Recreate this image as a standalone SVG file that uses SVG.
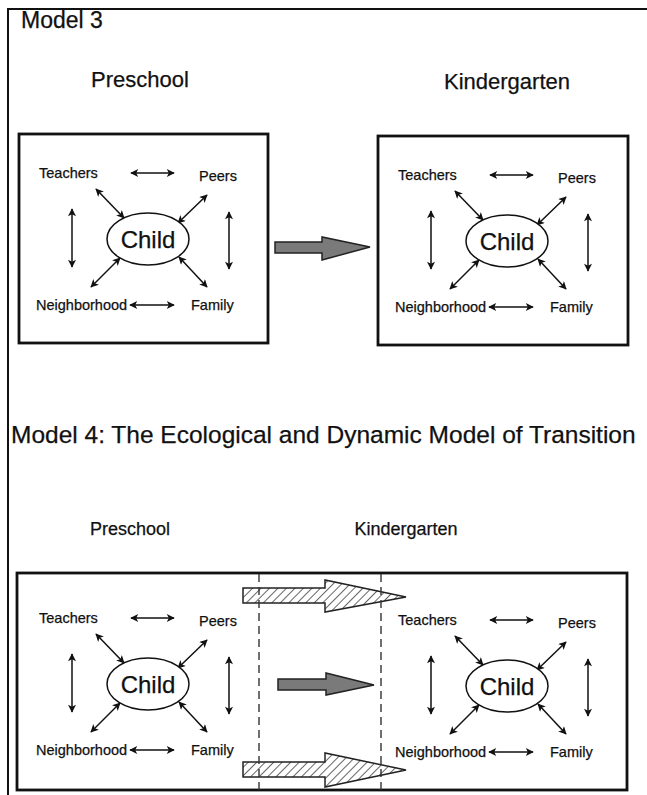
<svg xmlns="http://www.w3.org/2000/svg" width="647" height="795" viewBox="0 0 647 795">
<style>
text{font-family:"Liberation Sans",Arial,sans-serif;fill:#111;stroke:#111;stroke-width:0.25}
.lbl{font-size:14.5px}
.child{font-size:24px;text-anchor:middle}
.ttl{font-size:22px;text-anchor:middle}
.ttl2{font-size:18px;text-anchor:middle}
.rel{stroke:#111;stroke-width:1.5;fill:none;marker-start:url(#ah);marker-end:url(#ah)}
.ell{fill:#fff;stroke:#111;stroke-width:1.5}
.box{fill:none;stroke:#111;stroke-width:2.8}
.block{fill:#7a7a7a;stroke:#222;stroke-width:1.5}
.hatch{fill:url(#hp);stroke:#222;stroke-width:1.5}
.dash{stroke:#333;stroke-width:1.4;stroke-dasharray:8 5;fill:none}
</style>
<defs>
<marker id="ah" viewBox="0 0 10 10" refX="9" refY="5" markerWidth="9" markerHeight="8" orient="auto-start-reverse" markerUnits="userSpaceOnUse">
<path d="M0,0 L10,5 L0,10 L2.5,5 Z" fill="#111"/>
</marker>
<pattern id="hp" patternUnits="userSpaceOnUse" width="6" height="6" patternTransform="rotate(45)">
<rect width="6" height="6" fill="#fff"/>
<line x1="0" y1="0" x2="0" y2="6" stroke="#333" stroke-width="1.5"/>
</pattern>
</defs>

<rect width="647" height="795" fill="#fff"/>
<path d="M8,795 L8,9 L647,9" fill="none" stroke="#111" stroke-width="2"/>

<text x="21" y="28" style="font-size:23px">Model 3</text>
<text class="ttl" x="140" y="87">Preschool</text>
<text class="ttl" x="507" y="89">Kindergarten</text>
<rect id="box-m3-pre" class="box" x="19" y="134" width="249" height="209"/>
<rect id="box-m3-kg" class="box" x="378" y="136" width="250" height="209"/>

<text x="11" y="443" style="font-size:24.5px">Model 4: The Ecological and Dynamic Model of Transition</text>
<text class="ttl2" x="130" y="535">Preschool</text>
<text class="ttl2" x="406" y="535">Kindergarten</text>
<rect id="box-m4" class="box" x="17" y="573" width="610" height="217"/>

<g id="transition-arrows">
<path id="m3-arrow" class="block" d="M275,242 L322,242 L322,237 L370,247 L322,260 L322,253 L275,253 Z"/>
<path id="m4-arrow-top" class="hatch" d="M243,588 L325,588 L325,580 L406,597 L325,612 L325,603 L243,603 Z"/>
<path id="m4-arrow-mid" class="block" d="M278,679 L326,679 L326,673 L374,685 L326,695 L326,690 L278,690 Z"/>
<path id="m4-arrow-bot" class="hatch" d="M243,762 L325,762 L325,753 L406,770 L325,787 L325,777 L243,777 Z"/>
<line class="dash" x1="259" y1="574" x2="259" y2="790"/>
<line class="dash" x1="381" y1="574" x2="381" y2="790"/>
</g>

<!-- Panel: Model 3 Preschool -->
<g id="m3-pre">
<g id="m3-pre-connectors">
<line class="rel" x1="131" y1="173" x2="174" y2="173"/>
<line class="rel" x1="96" y1="189" x2="124" y2="218"/>
<line class="rel" x1="207" y1="195" x2="178" y2="223"/>
<line class="rel" x1="91" y1="287" x2="120" y2="258"/>
<line class="rel" x1="207" y1="287" x2="179" y2="257"/>
<line class="rel" x1="72" y1="209" x2="72" y2="267"/>
<line class="rel" x1="229" y1="212" x2="229" y2="269"/>
<line class="rel" x1="130" y1="305" x2="174" y2="305"/>
</g>
<g id="m3-pre-teachers"><text class="lbl" x="39" y="178">Teachers</text></g>
<g id="m3-pre-peers"><text class="lbl" x="199" y="181">Peers</text></g>
<g id="m3-pre-child"><ellipse class="ell" cx="148" cy="239" rx="41" ry="26"/><text class="child" x="148" y="248">Child</text></g>
<g id="m3-pre-neighborhood"><text class="lbl" x="36" y="310">Neighborhood</text></g>
<g id="m3-pre-family"><text class="lbl" x="191" y="310">Family</text></g>
</g>

<!-- Panel: Model 3 Kindergarten -->
<g id="m3-kg" transform="translate(359,2)">
<g id="m3-kg-connectors">
<line class="rel" x1="131" y1="173" x2="174" y2="173"/>
<line class="rel" x1="96" y1="189" x2="124" y2="218"/>
<line class="rel" x1="207" y1="195" x2="178" y2="223"/>
<line class="rel" x1="91" y1="287" x2="120" y2="258"/>
<line class="rel" x1="207" y1="287" x2="179" y2="257"/>
<line class="rel" x1="72" y1="209" x2="72" y2="267"/>
<line class="rel" x1="229" y1="212" x2="229" y2="269"/>
<line class="rel" x1="130" y1="305" x2="174" y2="305"/>
</g>
<g id="m3-kg-teachers"><text class="lbl" x="39" y="178">Teachers</text></g>
<g id="m3-kg-peers"><text class="lbl" x="199" y="181">Peers</text></g>
<g id="m3-kg-child"><ellipse class="ell" cx="148" cy="239" rx="41" ry="26"/><text class="child" x="148" y="248">Child</text></g>
<g id="m3-kg-neighborhood"><text class="lbl" x="36" y="310">Neighborhood</text></g>
<g id="m3-kg-family"><text class="lbl" x="191" y="310">Family</text></g>
</g>

<!-- Panel: Model 4 Preschool -->
<g id="m4-pre" transform="translate(0,445)">
<g id="m4-pre-connectors">
<line class="rel" x1="131" y1="173" x2="174" y2="173"/>
<line class="rel" x1="96" y1="189" x2="124" y2="218"/>
<line class="rel" x1="207" y1="195" x2="178" y2="223"/>
<line class="rel" x1="91" y1="287" x2="120" y2="258"/>
<line class="rel" x1="207" y1="287" x2="179" y2="257"/>
<line class="rel" x1="72" y1="209" x2="72" y2="267"/>
<line class="rel" x1="229" y1="212" x2="229" y2="269"/>
<line class="rel" x1="130" y1="305" x2="174" y2="305"/>
</g>
<g id="m4-pre-teachers"><text class="lbl" x="39" y="178">Teachers</text></g>
<g id="m4-pre-peers"><text class="lbl" x="199" y="181">Peers</text></g>
<g id="m4-pre-child"><ellipse class="ell" cx="148" cy="239" rx="41" ry="26"/><text class="child" x="148" y="248">Child</text></g>
<g id="m4-pre-neighborhood"><text class="lbl" x="36" y="310">Neighborhood</text></g>
<g id="m4-pre-family"><text class="lbl" x="191" y="310">Family</text></g>
</g>

<!-- Panel: Model 4 Kindergarten -->
<g id="m4-kg" transform="translate(359,447)">
<g id="m4-kg-connectors">
<line class="rel" x1="131" y1="173" x2="174" y2="173"/>
<line class="rel" x1="96" y1="189" x2="124" y2="218"/>
<line class="rel" x1="207" y1="195" x2="178" y2="223"/>
<line class="rel" x1="91" y1="287" x2="120" y2="258"/>
<line class="rel" x1="207" y1="287" x2="179" y2="257"/>
<line class="rel" x1="72" y1="209" x2="72" y2="267"/>
<line class="rel" x1="229" y1="212" x2="229" y2="269"/>
<line class="rel" x1="130" y1="305" x2="174" y2="305"/>
</g>
<g id="m4-kg-teachers"><text class="lbl" x="39" y="178">Teachers</text></g>
<g id="m4-kg-peers"><text class="lbl" x="199" y="181">Peers</text></g>
<g id="m4-kg-child"><ellipse class="ell" cx="148" cy="239" rx="41" ry="26"/><text class="child" x="148" y="248">Child</text></g>
<g id="m4-kg-neighborhood"><text class="lbl" x="36" y="310">Neighborhood</text></g>
<g id="m4-kg-family"><text class="lbl" x="191" y="310">Family</text></g>
</g>
</svg>
